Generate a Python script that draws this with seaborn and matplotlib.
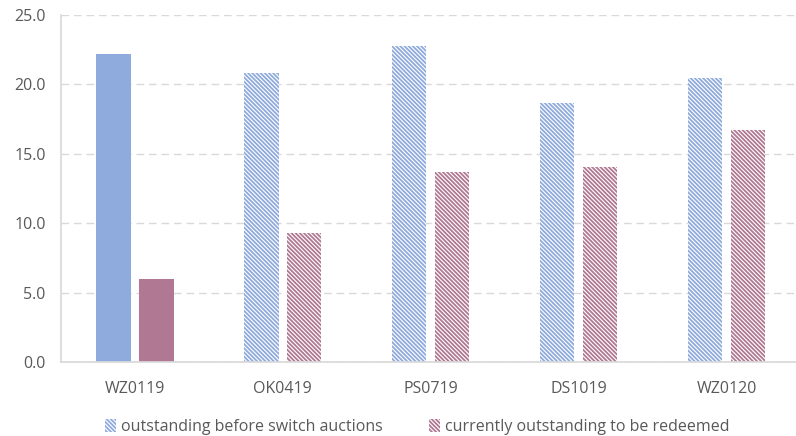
import pandas as pd
import seaborn as sns
import matplotlib
matplotlib.use("Agg")
import matplotlib.pyplot as plt
from matplotlib.patches import Patch

bonds = ["WZ0119", "OK0419", "PS0719", "DS1019", "WZ0120"]
before_switch = [22.2, 20.8, 22.8, 18.7, 20.5]
to_redeem = [6.0, 9.3, 13.7, 14.1, 16.7]
series = ["outstanding before switch auctions", "currently outstanding to be redeemed"]
yticks = [0, 5, 10, 15, 20, 25]

blue = "#8FAADC"
red = "#B07892"
grey_txt = "#595959"
grid_c = "#D9D9D9"
hatch = "\\" * 8

df = pd.DataFrame({
    "bond": bonds * 2,
    "value": before_switch + to_redeem,
    "series": [series[0]] * len(bonds) + [series[1]] * len(bonds),
})

sns.set_theme(style="white")
plt.rcParams["font.family"] = ["Open Sans", "DejaVu Sans"]
plt.rcParams["hatch.linewidth"] = 1.3

fig = plt.figure(figsize=(7.96, 4.36), dpi=100)
ax = fig.add_axes([0.0766, 0.1686, 0.929, 0.797])

sns.barplot(data=df, x="bond", y="value", hue="series", hue_order=series,
            palette=[blue, red], width=0.58, gap=0.2, ax=ax, legend=False,
            saturation=1)

# first bond solid, the rest hatched
cols = [blue, red]
for k, cont in enumerate(ax.containers):
    for i, bar in enumerate(cont):
        bar.set_linewidth(0)
        if i == 0:
            bar.set_facecolor(cols[k])
        else:
            bar.set_facecolor("white")
            bar.set_edgecolor(cols[k])
            bar.set_hatch(hatch)

ax.set_ylim(0, 25)
ax.set_xlim(-0.5, len(bonds) - 0.5)
ax.set_yticks(yticks)
ax.set_yticklabels([f"{v:.1f}" for v in yticks])
ax.set_xlabel("")
ax.set_ylabel("")
ax.yaxis.grid(True, color=grid_c, linestyle=(0, (5.5, 3.5)), linewidth=1.0)
ax.set_axisbelow(True)

for s in ["top", "right"]:
    ax.spines[s].set_visible(False)
ax.spines["left"].set_color(grid_c)
ax.spines["bottom"].set_color(grid_c)

ax.tick_params(axis="both", length=0, colors=grey_txt, labelsize=11.5)
ax.tick_params(axis="y", pad=11)
ax.tick_params(axis="x", pad=13)
ax.set_xticks([i + 0.5 for i in range(len(bonds) - 1)], minor=True)
ax.tick_params(axis="x", which="minor", length=5, color=grid_c, width=1)

handles = [
    Patch(facecolor="white", edgecolor=blue, hatch=hatch, linewidth=0, label=series[0]),
    Patch(facecolor="white", edgecolor=red, hatch=hatch, linewidth=0, label=series[1]),
]
leg = fig.legend(handles=handles, loc="center", bbox_to_anchor=(0.524, 0.02),
                 ncol=2, frameon=False, fontsize=11.5, handlelength=0.7,
                 handleheight=0.9, handletextpad=0.3, columnspacing=2.9)
for t in leg.get_texts():
    t.set_color(grey_txt)

fig.savefig("out.png", dpi=100)
